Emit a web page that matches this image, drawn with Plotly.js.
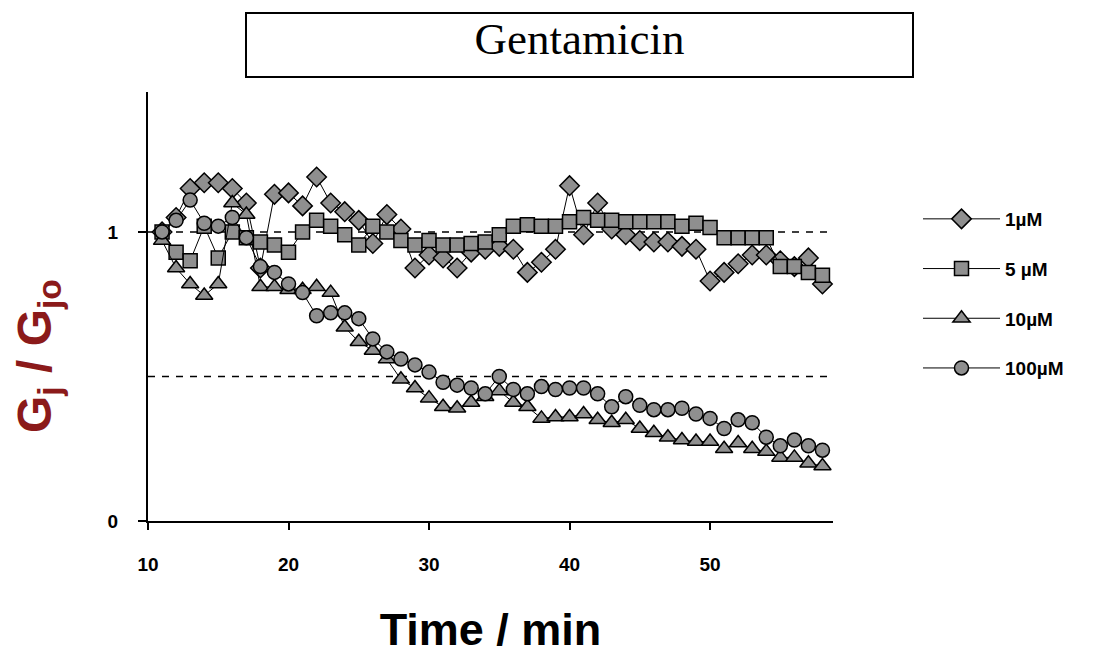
<!DOCTYPE html>
<html>
<head>
<meta charset="utf-8">
<script src="https://cdn.plot.ly/plotly-3.0.1.min.js"></script>
<style>html,body{margin:0;padding:0;background:#fff;}#chart{width:1111px;height:655px;}</style>
</head>
<body>
<div id="chart"></div>
<script>
// Time (min)
const timeMin = [11,12,13,14,15,16,17,18,19,20,21,22,23,24,25,26,27,28,29,30,31,32,33,34,35,36,37,38,39,40,41,42,43,44,45,46,47,48,49,50,51,52,53,54,55,56,57,58];

// Gj / Gjo for each concentration
const g1uM = [1.00,1.05,1.15,1.17,1.17,1.15,1.10,0.875,1.13,1.135,1.09,1.19,1.10,1.07,1.04,0.96,1.06,1.01,0.875,0.92,0.91,0.875,0.93,0.94,0.95,0.94,0.86,0.895,0.94,1.16,0.99,1.10,1.01,0.99,0.97,0.965,0.965,0.95,0.94,0.83,0.86,0.89,0.92,0.92,0.90,0.88,0.91,0.82];
const g5uM = [1.00,0.93,0.90,1.02,0.91,1.00,0.98,0.965,0.955,0.93,1.00,1.04,1.02,0.99,0.955,1.02,1.00,0.97,0.955,0.97,0.955,0.955,0.96,0.965,0.99,1.02,1.025,1.02,1.02,1.035,1.05,1.04,1.04,1.035,1.035,1.035,1.035,1.02,1.03,1.015,0.98,0.98,0.98,0.98,0.88,0.88,0.86,0.85];
const g10uM = [0.97,0.875,0.82,0.78,0.82,1.10,1.06,0.81,0.81,0.80,0.80,0.81,0.79,0.67,0.62,0.59,0.56,0.49,0.46,0.425,0.395,0.39,0.41,0.43,0.45,0.41,0.395,0.355,0.36,0.36,0.37,0.35,0.34,0.35,0.32,0.305,0.29,0.28,0.275,0.275,0.25,0.27,0.25,0.24,0.22,0.22,0.20,0.19];
const g100uM = [1.00,1.04,1.11,1.03,1.02,1.05,0.98,0.88,0.86,0.82,0.79,0.71,0.72,0.72,0.70,0.63,0.585,0.56,0.54,0.515,0.48,0.47,0.46,0.44,0.50,0.455,0.44,0.465,0.455,0.46,0.46,0.44,0.395,0.43,0.40,0.385,0.385,0.39,0.37,0.355,0.32,0.35,0.34,0.29,0.26,0.28,0.26,0.245];

const seriesNames = ['1µM','5 µM','10µM','100µM'];
const seriesData = [g1uM, g5uM, g10uM, g100uM];
const seriesSymbols = ['diamond','square','triangle-up','circle'];
const seriesSizes = [15, 14, 15, 14];

const xTicks = [10,20,30,40,50];
const yTicks = [0,1];
const refLevels = [1, 0.5];

const FONT = 'Liberation Sans, Arial, sans-serif';

const traces = seriesData.map((ys, i) => ({
  type: 'scatter',
  mode: 'lines+markers',
  x: timeMin,
  y: ys,
  name: seriesNames[i],
  legendgroup: 'g' + i,
  line: {color: '#000', width: 1},
  marker: {symbol: seriesSymbols[i], size: seriesSizes[i], color: '#8f8f8f', line: {color: '#000', width: 1.5}},
  cliponaxis: false
}));

const shapes = refLevels.map(v => ({
  type: 'line', xref: 'paper', yref: 'y', x0: 0, x1: 1, y0: v, y1: v,
  line: {color: '#000', width: 1.5, dash: '7px,7px'}, layer: 'below'
}));
shapes.push({
  type: 'rect', xref: 'paper', yref: 'paper',
  x0: (246-148)/685, x1: (913-148)/685, y0: (521-77)/429, y1: (521-13)/429,
  line: {color: '#000', width: 2}, fillcolor: 'rgba(0,0,0,0)'
});

const layout = {
  width: 1111, height: 655,
  margin: {l: 148, r: 278, t: 92, b: 134},
  paper_bgcolor: '#fff', plot_bgcolor: '#fff',
  font: {family: FONT, color: '#000'},
  title: {
    text: 'Gentamicin', xref: 'paper', x: (579.5-148)/685, xanchor: 'center',
    yref: 'container', y: 1 - 38/655, yanchor: 'middle',
    font: {family: 'Liberation Serif, Times New Roman, serif', size: 45, color: '#000'}
  },
  xaxis: {
    range: [10, 58.75], tickvals: xTicks, ticktext: xTicks.map(String),
    showline: true, linecolor: '#000', linewidth: 2, mirror: false,
    ticks: 'outside', ticklen: 7, tickwidth: 2, tickcolor: '#000',
    showgrid: false, zeroline: false,
    tickfont: {family: FONT, size: 19, weight: 'bold', color: '#000'},
    ticklabelstandoff: 18,
    title: {text: 'Time / min', font: {family: FONT, size: 45, weight: 'bold', color: '#000'}, standoff: 42}
  },
  yaxis: {
    range: [0, 1.484], tickvals: yTicks, ticktext: yTicks.map(String),
    showline: true, linecolor: '#000', linewidth: 2,
    ticks: 'outside', ticklen: 8, tickwidth: 2, tickcolor: '#000',
    showgrid: false, zeroline: false,
    tickfont: {family: FONT, size: 19, weight: 'bold', color: '#000'},
    ticklabelstandoff: 16
  },
  showlegend: true,
  legend: {
    x: (918-148)/685, xanchor: 'left', y: (521-200)/429, yanchor: 'top',
    font: {family: FONT, size: 19, weight: 'bold', color: '#000'},
    tracegroupgap: 22, itemwidth: 77, bgcolor: 'rgba(0,0,0,0)'
  },
  shapes: shapes,
  annotations: [{
    text: 'G<sub>j</sub> / G<sub>jo</sub>', textangle: -90,
    xref: 'paper', yref: 'paper', x: (38-148)/685, y: (521-356)/429,
    xanchor: 'center', yanchor: 'middle', showarrow: false,
    font: {family: FONT, size: 48, weight: 'bold', color: '#8b1a1a'}
  }]
};

Plotly.newPlot('chart', traces, layout, {displayModeBar: false, staticPlot: true});
</script>
</body>
</html>
